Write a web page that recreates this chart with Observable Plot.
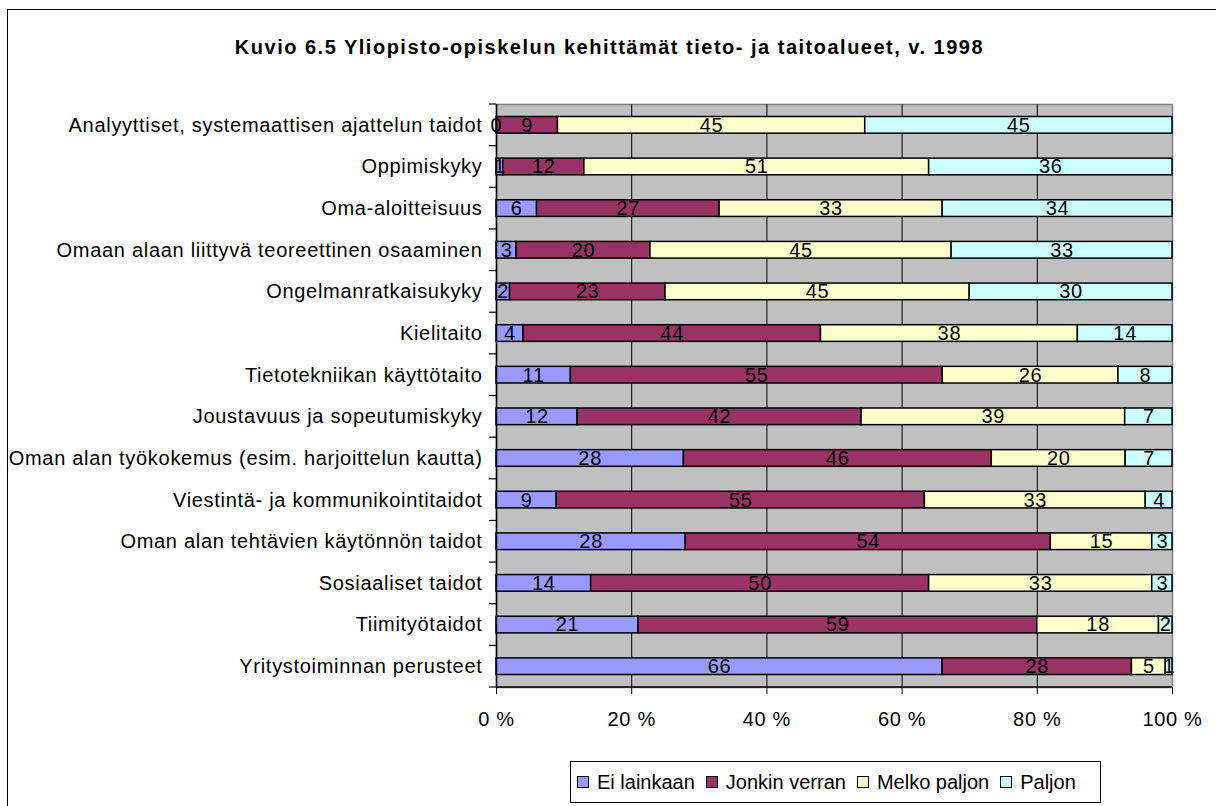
<!DOCTYPE html>
<html><head><meta charset="utf-8">
<script src="https://cdn.jsdelivr.net/npm/d3@7"></script>
<script src="https://cdn.jsdelivr.net/npm/@observablehq/plot@0.6"></script>
<style>
body{margin:0;background:#fff;font-family:"Liberation Sans",Arial,sans-serif;color:#000;}
#wrap{position:relative;width:1216px;height:806px;overflow:hidden;}
#frame{position:absolute;left:7px;top:9px;width:1300px;height:900px;border-left:1.5px solid #000;border-top:1.5px solid #000;pointer-events:none;}
#title{position:absolute;top:35px;left:5px;width:1209px;text-align:center;font-weight:bold;font-size:20px;line-height:24px;letter-spacing:1.5px;}
#chart{position:absolute;top:90px;left:0;}
#legend{position:absolute;left:570px;top:761px;width:531px;height:42px;border:1.5px solid #000;box-sizing:border-box;display:flex;align-items:center;justify-content:flex-start;padding-left:6px;font-size:20px;background:#fff;}
.item{display:flex;align-items:center;margin-right:11px;}
.sw{width:10px;height:10px;border:1.5px solid #000;margin-right:8px;}
</style>
</head><body>
<div id="wrap">
  <div id="frame"></div>
  <div id="title">Kuvio 6.5 Yliopisto-opiskelun kehittämät tieto- ja taitoalueet, v. 1998</div>
  <div id="chart"></div>
  <div id="legend"></div>
</div>
<script>
const categories = [
  "Analyyttiset, systemaattisen ajattelun taidot",
  "Oppimiskyky",
  "Oma-aloitteisuus",
  "Omaan alaan liittyvä teoreettinen osaaminen",
  "Ongelmanratkaisukyky",
  "Kielitaito",
  "Tietotekniikan käyttötaito",
  "Joustavuus ja sopeutumiskyky",
  "Oman alan työkokemus (esim. harjoittelun kautta)",
  "Viestintä- ja kommunikointitaidot",
  "Oman alan tehtävien käytönnön taidot",
  "Sosiaaliset taidot",
  "Tiimityötaidot",
  "Yritystoiminnan perusteet"
];
const series = ["Ei lainkaan", "Jonkin verran", "Melko paljon", "Paljon"];
const eiLainkaan   = [0, 1, 6, 3, 2, 4, 11, 12, 28, 9, 28, 14, 21, 66];
const jonkinVerran = [9, 12, 27, 20, 23, 44, 55, 42, 46, 55, 54, 50, 59, 28];
const melkoPaljon  = [45, 51, 33, 45, 45, 38, 26, 39, 20, 33, 15, 33, 18, 5];
const paljon       = [45, 36, 34, 33, 30, 14, 8, 7, 7, 4, 3, 3, 2, 1];
const colors = ["#9999FF", "#993366", "#FFFFCC", "#CCFFFF"];
const xTicks = [0, 0.2, 0.4, 0.6, 0.8, 1];

const data = [];
[eiLainkaan, jonkinVerran, melkoPaljon, paljon].forEach((arr, s) =>
  arr.forEach((v, i) => data.push({cat: categories[i], series: series[s], value: v})));

const axisLines = (index, scales, values, dimensions) => {
  const g = d3.create("svg:g");
  const {marginLeft, height, marginBottom} = dimensions;
  const bottom = height - marginBottom;
  const y = scales.y;
  const bw = y.bandwidth ? y.bandwidth() : 0;
  const step = y(categories[1]) - y(categories[0]);
  const bounds = [y(categories[0]) + bw / 2 - step / 2, ...categories.map(c => y(c) + bw / 2 + step / 2)];
  g.selectAll("line.t").data(bounds).join("line")
    .attr("x1", marginLeft - 7).attr("x2", marginLeft)
    .attr("y1", d => d).attr("y2", d => d)
    .attr("stroke", "#000").attr("stroke-width", 1.2);
  g.append("line").attr("x1", marginLeft).attr("x2", scales.x(1))
    .attr("y1", bottom).attr("y2", bottom).attr("stroke", "#000").attr("stroke-width", 1.5);
  return g.node();
};

const chart = Plot.plot({
  width: 1216,
  height: 647,
  marginLeft: 496,
  marginRight: 44,
  marginTop: 14,
  marginBottom: 50,
  style: {fontFamily: "'Liberation Sans', Arial, sans-serif", fontSize: "20px", letterSpacing: "0.7px", color: "#000", background: "transparent", overflow: "visible"},
  x: {domain: [0, 1]},
  y: {domain: categories, paddingInner: 0.6, paddingOuter: 0.3, round: false},
  color: {domain: series, range: colors},
  marks: [
    Plot.frame({fill: "#C0C0C0", stroke: "#808080", strokeWidth: 1.5}),
    Plot.ruleX(xTicks.slice(1, -1), {stroke: "#000", strokeWidth: 1}),
    Plot.barX(data, Plot.stackX({x: "value", y: "cat", z: "series", fill: "series", offset: "normalize", stroke: "#000", strokeWidth: 1.5})),
    Plot.textX(data, Plot.stackX({x: "value", y: "cat", z: "series", offset: "normalize", text: d => String(d.value), fill: "#000", fontSize: 20})),
    Plot.ruleX([0], {stroke: "#000", strokeWidth: 1.5}),
    Plot.axisX(xTicks, {anchor: "bottom", tickSize: 7, tickPadding: 17, tickFormat: d => `${Math.round(d * 100)} %`, stroke: "#000", fontSize: 20, label: null}),
    Plot.axisY({anchor: "left", tickSize: 0, tickPadding: 14, fontSize: 20, label: null}),
    axisLines
  ]
});
document.getElementById("chart").appendChild(chart);

const legend = d3.select("#legend");
series.forEach((s, i) => {
  const it = legend.append("div").attr("class", "item");
  it.append("div").attr("class", "sw").style("background", colors[i]);
  it.append("span").text(s);
});
</script>
</body></html>
